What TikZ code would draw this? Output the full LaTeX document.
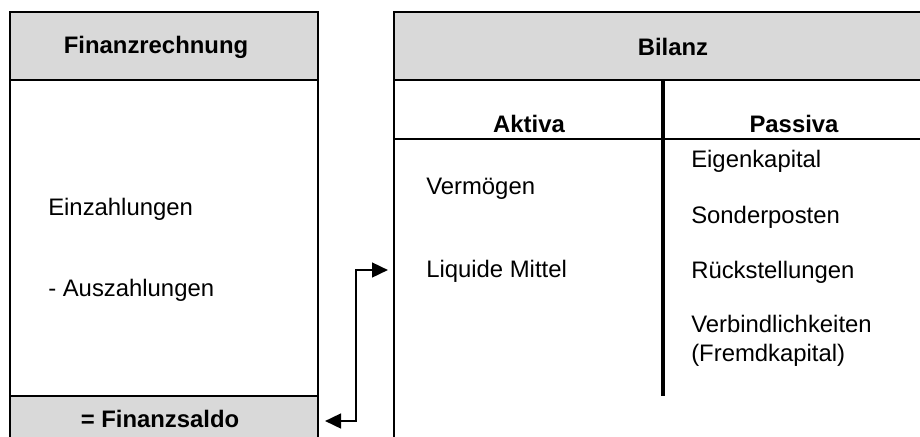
\documentclass[tikz,border=0pt]{standalone}
\usepackage{fontspec}
\setmainfont{Liberation Sans}
\usetikzlibrary{arrows.meta}
\definecolor{hdrgray}{HTML}{D9D9D9}
\tikzset{
  frame/.style={draw=black, line width=1.9pt},
  hdr/.style={frame, fill=hdrgray},
  txt/.style={inner sep=0pt, font=\fontsize{17.9}{21.5}\selectfont},
  btxt/.style={txt, font=\fontsize{17.9}{21.5}\selectfont\bfseries},
  ltxt/.style={txt, anchor=west},
  conn/.style={line width=1.9pt, {Triangle[length=12pt,width=11pt]}-{Triangle[length=12pt,width=11pt]}}
}
\begin{document}
\begin{tikzpicture}[x=0.75pt, y=-0.75pt]
\useasboundingbox (0,0) rectangle (920,436);
\clip (0,0) rectangle (920,436);
% left box
\fill[white] (10,12) rectangle (318,450);
\draw[hdr] (10,12) rectangle (318,80);
\draw[hdr] (10,396) rectangle (318,450);
\draw[frame] (10,80) -- (10,450);
\draw[frame] (318,80) -- (318,450);
% right box
\draw[hdr] (394,12) rectangle (930,80);
\draw[frame] (394,80) -- (394,450);
\draw[frame] (394,139) -- (930,139);
\draw[black, line width=3pt] (663,80) -- (663,396);
% texts
\node[btxt] (fin) at (156,47) {Finanzrechnung};
\node[btxt] (bil) at (673,47) {Bilanz};
\node[btxt] (akt) at (529,124) {Aktiva};
\node[btxt] (pas) at (794,124) {Passiva};
\node[ltxt] (ein) at (48,209) {Einzahlungen};
\node[ltxt] (aus) at (48,290) {- Auszahlungen};
\node[btxt] (sal) at (160,419) {= Finanzsaldo};
\node[ltxt] (ver) at (426,189) {Vermögen};
\node[ltxt] (liq) at (426,271) {Liquide Mittel};
\node[ltxt] (eig) at (691,161) {Eigenkapital};
\node[ltxt] (son) at (691,217) {Sonderposten};
\node[ltxt] (rue) at (691,272) {Rückstellungen};
\node[ltxt, align=left] (vbl) at (691,341) {Verbindlichkeiten\\(Fremdkapital)};
% connector
\coordinate (pA) at (325,421);
\coordinate (pB) at (388,270);
\draw[conn] (pA) -- (356,421) |- (pB);
\end{tikzpicture}
\end{document}
